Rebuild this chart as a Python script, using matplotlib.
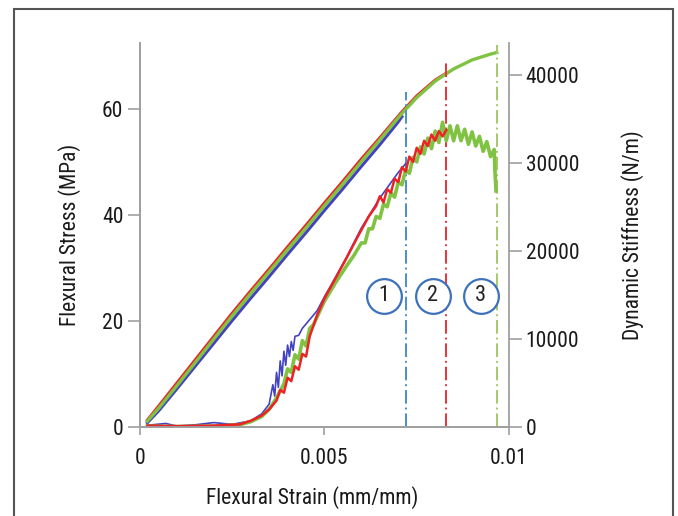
import numpy as np
import matplotlib.pyplot as plt
from matplotlib.patches import Rectangle

plt.rcParams['font.family'] = ['Roboto Condensed', 'DejaVu Sans']
plt.rcParams['font.stretch'] = 'condensed'

# flexural stress (left axis), three samples
strain_up = [0.0002, 0.0005, 0.001, 0.0015, 0.002, 0.0025, 0.003, 0.0035, 0.004, 0.0045,
             0.005, 0.0055, 0.006, 0.0065, 0.007, 0.0071, 0.0075, 0.008, 0.0083, 0.0085,
             0.009, 0.0095, 0.00967]
stress_green = [1.1, 3.5, 7.8, 12.2, 16.6, 21.0, 25.2, 29.3, 33.5, 37.6,
                41.8, 45.9, 50.1, 54.2, 58.4, 59.2, 62.2, 65.3, 66.7, 67.6,
                69.3, 70.4, 70.7]
stress_red = [1.3, 3.9, 8.3, 12.7, 17.1, 21.5, 25.7, 29.8, 34.0, 38.1,
              42.3, 46.4, 50.6, 54.6, 58.7, 59.5, 62.5, 65.5, 66.8]
stress_blue = [0.8, 3.0, 7.2, 11.5, 15.8, 20.1, 24.3, 28.4, 32.6, 36.7,
               40.9, 45.0, 49.2, 53.3, 57.6, 58.6]

# dynamic stiffness (right axis)
strain_lo_red = [0.0002, 0.001, 0.002, 0.0027, 0.003, 0.0033, 0.0035, 0.0037, 0.0038, 0.0039,
                 0.004, 0.0041, 0.0042, 0.0043, 0.0044, 0.0045, 0.0046, 0.0048, 0.005, 0.0053,
                 0.0056, 0.0059, 0.0062, 0.0064, 0.0065, 0.0066, 0.0067, 0.0068, 0.0069, 0.007,
                 0.0071, 0.0072, 0.0073, 0.0074, 0.0075, 0.0076, 0.0077, 0.0078, 0.0079, 0.008,
                 0.0081, 0.0082, 0.0083]
stiff_red = [150, 100, 150, 300, 700, 1300, 2000, 3000, 4200, 3900,
             5600, 5200, 6900, 6500, 8300, 8000, 10300, 12700, 14600, 16900,
             19200, 21600, 23900, 25100, 26200, 25500, 27000, 26600, 28200, 27800,
             29500, 29000, 30700, 30100, 31700, 31000, 32500, 31900, 33200, 32500,
             33600, 33000, 33700]

strain_lo_blue = [0.0002, 0.0007, 0.001, 0.0015, 0.002, 0.0025, 0.003, 0.0033, 0.0035, 0.0036,
                  0.00365, 0.0037, 0.00375, 0.0038, 0.00385, 0.0039, 0.00395, 0.004, 0.00405, 0.0041,
                  0.00415, 0.0042, 0.0043, 0.0044, 0.0046, 0.0048, 0.005, 0.0053, 0.0056, 0.006,
                  0.0065, 0.007, 0.0072]
stiff_blue = [200, 400, 100, 250, 500, 300, 700, 1500, 2600, 4800,
              3500, 6200, 4500, 7500, 5800, 8600, 7000, 9300, 8000, 9700,
              8700, 10300, 10400, 11200, 12200, 13200, 14800, 17000, 19300, 22600,
              26000, 28900, 29900]

strain_lo_green = [0.0002, 0.001, 0.002, 0.0027, 0.003, 0.0033, 0.0035, 0.0037, 0.0039, 0.004,
                   0.0041, 0.0042, 0.0043, 0.0044, 0.0045, 0.0046, 0.0047, 0.005, 0.0053, 0.0056,
                   0.0058, 0.006, 0.0061, 0.0062, 0.0063, 0.0064, 0.0065, 0.0066, 0.0067, 0.0068,
                   0.0069, 0.007, 0.0071, 0.0072, 0.0073, 0.0074, 0.0075, 0.0076, 0.0077, 0.0078,
                   0.0079, 0.008, 0.0081, 0.0082, 0.0083, 0.0084, 0.0085, 0.0086, 0.0087, 0.0088,
                   0.0089, 0.009, 0.0091, 0.0092, 0.0093, 0.0094, 0.0095, 0.0096, 0.00962, 0.00965]
stiff_green = [100, 50, 100, 250, 600, 1200, 2000, 3300, 4900, 6600,
               6200, 8200, 7700, 9800, 9200, 11200, 11600, 14300, 16400, 18300,
               19500, 20900, 20900, 22500, 22500, 23900, 23700, 25300, 25000, 26600,
               26100, 27800, 27500, 29200, 28800, 30600, 30100, 31800, 31000, 32800,
               31600, 33600, 32300, 34600, 32500, 34200, 32500, 34200, 32500, 33800,
               32100, 33500, 31900, 33000, 31300, 32400, 30700, 31500, 29000, 26800]

# failure markers
fail_strain = [0.0072, 0.0083, 0.00967]
fail_top = [63.2, 68.9, 72.1]
fail_colors = ['#4a8fc8', '#e8343a', '#a6c96a']
circle_x = [0.00661, 0.00794, 0.00924]
circle_y = 14900
circle_lbl = ['1', '2', '3']

c_blue = '#4343c0'
c_red = '#ec2224'
c_green = '#80c242'
grey = '#a0a0a0'

fig = plt.figure(figsize=(6.78, 5.16), dpi=100)
ax = fig.add_axes([0.2065, 0.1725, 0.5442, 0.7442])
ax2 = ax.twinx()

ax.plot(strain_up[:len(stress_blue)], stress_blue, color=c_blue, lw=2.2)
ax.plot(strain_up[:len(stress_red)], stress_red, color=c_red, lw=2.2)
ax.plot(strain_up, stress_green, color=c_green, lw=2.4)

for xs, top, c in zip(fail_strain, fail_top, fail_colors):
    ax.plot([xs, xs], [0, top], color=c, lw=1.4, linestyle=(0, (7, 2, 1, 2)))

ax2.plot(strain_lo_blue, stiff_blue, color=c_blue, lw=1.2)
ax2.plot(strain_lo_green, stiff_green, color=c_green, lw=2.6)
ax2.plot(strain_lo_red, stiff_red, color=c_red, lw=1.8)

for cx, t in zip(circle_x, circle_lbl):
    ax2.plot(cx, circle_y, marker='o', markersize=25, mfc='white', mec='#3d72bb', mew=1.6, zorder=5)
    ax2.text(cx, circle_y, t, ha='center', va='center', fontsize=16, color='#222222', zorder=6)

ax.set_xlim(0, 0.01)
ax.set_ylim(0, 72.5)
ax2.set_ylim(0, 43600)

ax.set_xticks([0, 0.005, 0.01])
ax.set_xticklabels(['0', '0.005', '0.01'])
ax.set_yticks([0, 20, 40, 60])
ax2.set_yticks([0, 10000, 20000, 30000, 40000])
ax2.set_yticklabels(['0', '10000', '20000', '30000', '40000'])

for a in (ax, ax2):
    a.spines['top'].set_visible(False)
    for s in a.spines.values():
        s.set_color(grey)
        s.set_linewidth(1.3)
    a.tick_params(colors=grey, labelcolor='#1a1a1a', labelsize=15.5, width=1.2)
ax.spines['right'].set_visible(False)
ax.tick_params(axis='y', length=9, pad=3)
ax.tick_params(axis='x', length=6, pad=9)
ax2.tick_params(axis='y', length=9, pad=3)

ax.set_xlabel('Flexural Strain (mm/mm)', fontsize=15.5, color='#1a1a1a')
ax.xaxis.set_label_coords(0.467, -0.155)
ax.set_ylabel('Flexural Stress (MPa)', fontsize=15.5, color='#1a1a1a', labelpad=15)
ax2.set_ylabel('Dynamic Stiffness (N/m)', fontsize=15.5, color='#1a1a1a', labelpad=30)

fig.patches.append(Rectangle((0.0206, -0.05), 0.972, 1.0326, transform=fig.transFigure,
                             fill=False, edgecolor='#555555', lw=1.5))

fig.savefig('out.png', dpi=100)
